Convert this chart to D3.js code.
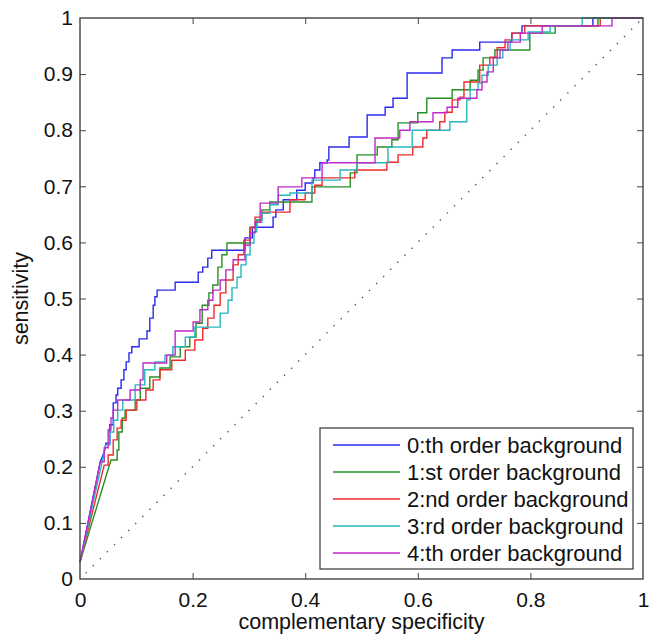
<!DOCTYPE html>
<html><head><meta charset="utf-8">
<script src="https://cdn.jsdelivr.net/npm/d3@7/dist/d3.min.js"></script>
<style>
html,body{margin:0;padding:0;background:#fff;}
svg{display:block;font-family:"Liberation Sans",Arial,sans-serif;}
</style></head>
<body><svg id="chart" width="658" height="638"></svg>
<script>
const seriesNames = ["0:th order background","1:st order background","2:nd order background","3:rd order background","4:th order background"];
const seriesColors = ["#2a2af0","#259025","#f02a2a","#25b8c0","#c02ac8"];
const xTicks = [0,0.2,0.4,0.6,0.8,1];
const yTicks = [0,0.1,0.2,0.3,0.4,0.5,0.6,0.7,0.8,0.9,1];
const xTickLabels = ["0","0.2","0.4","0.6","0.8","1"];
const yTickLabels = ["0","0.1","0.2","0.3","0.4","0.5","0.6","0.7","0.8","0.9","1"];

const roc0 = [[0,0.030],[0.036,0.209],[0.043,0.226],[0.046,0.242],[0.053,0.242],[0.053,0.275],[0.059,0.275],[0.059,0.314],[0.064,0.314],[0.064,0.328],[0.067,0.328],[0.067,0.340],[0.073,0.340],[0.073,0.355],[0.078,0.355],[0.078,0.373],[0.082,0.373],[0.082,0.387],[0.087,0.387],[0.087,0.403],[0.092,0.403],[0.092,0.414],[0.105,0.414],[0.105,0.428],[0.119,0.428],[0.119,0.442],[0.124,0.442],[0.124,0.465],[0.130,0.465],[0.130,0.488],[0.133,0.488],[0.133,0.503],[0.137,0.503],[0.137,0.515],[0.169,0.515],[0.169,0.529],[0.210,0.529],[0.210,0.547],[0.218,0.547],[0.218,0.556],[0.227,0.556],[0.227,0.572],[0.234,0.572],[0.234,0.586],[0.293,0.586],[0.293,0.608],[0.306,0.608],[0.306,0.627],[0.343,0.627],[0.343,0.645],[0.348,0.645],[0.348,0.658],[0.361,0.658],[0.361,0.676],[0.385,0.676],[0.385,0.693],[0.400,0.693],[0.400,0.706],[0.414,0.706],[0.414,0.715],[0.417,0.715],[0.417,0.729],[0.426,0.729],[0.426,0.742],[0.439,0.742],[0.439,0.747],[0.442,0.747],[0.442,0.770],[0.478,0.770],[0.478,0.788],[0.510,0.788],[0.510,0.827],[0.542,0.827],[0.542,0.841],[0.556,0.841],[0.556,0.857],[0.581,0.857],[0.581,0.902],[0.643,0.902],[0.643,0.929],[0.661,0.929],[0.661,0.943],[0.710,0.943],[0.710,0.957],[0.767,0.957],[0.767,0.973],[0.785,0.973],[0.785,0.986],[0.911,0.986],[0.911,1],[1,1]];

const roc1 = [[0,0.030],[0.055,0.212],[0.066,0.212],[0.066,0.230],[0.069,0.230],[0.069,0.262],[0.075,0.262],[0.075,0.287],[0.080,0.287],[0.080,0.301],[0.098,0.301],[0.098,0.319],[0.107,0.319],[0.107,0.340],[0.124,0.340],[0.124,0.360],[0.142,0.360],[0.142,0.376],[0.160,0.376],[0.160,0.396],[0.178,0.396],[0.178,0.414],[0.195,0.414],[0.195,0.431],[0.206,0.431],[0.206,0.456],[0.217,0.456],[0.217,0.488],[0.229,0.488],[0.229,0.510],[0.236,0.510],[0.236,0.524],[0.245,0.524],[0.245,0.556],[0.252,0.556],[0.252,0.578],[0.261,0.578],[0.261,0.599],[0.302,0.599],[0.302,0.627],[0.314,0.627],[0.314,0.640],[0.323,0.640],[0.323,0.658],[0.337,0.658],[0.337,0.672],[0.412,0.672],[0.412,0.699],[0.480,0.699],[0.480,0.724],[0.492,0.724],[0.492,0.756],[0.528,0.756],[0.528,0.770],[0.554,0.770],[0.554,0.783],[0.565,0.783],[0.565,0.813],[0.600,0.813],[0.600,0.831],[0.616,0.831],[0.616,0.857],[0.661,0.857],[0.661,0.872],[0.693,0.872],[0.693,0.889],[0.707,0.889],[0.707,0.907],[0.716,0.907],[0.716,0.929],[0.737,0.929],[0.737,0.943],[0.799,0.943],[0.799,0.973],[0.844,0.973],[0.844,0.986],[0.920,0.986],[0.920,1],[1,1]];

const roc2 = [[0,0.030],[0.043,0.203],[0.050,0.203],[0.050,0.221],[0.059,0.221],[0.059,0.248],[0.066,0.248],[0.066,0.269],[0.073,0.269],[0.073,0.283],[0.082,0.283],[0.082,0.301],[0.101,0.301],[0.101,0.319],[0.117,0.319],[0.117,0.337],[0.130,0.337],[0.130,0.355],[0.142,0.355],[0.142,0.373],[0.163,0.373],[0.163,0.390],[0.187,0.390],[0.187,0.408],[0.204,0.408],[0.204,0.426],[0.218,0.426],[0.218,0.447],[0.227,0.447],[0.227,0.465],[0.238,0.465],[0.238,0.488],[0.249,0.488],[0.249,0.510],[0.259,0.510],[0.259,0.533],[0.272,0.533],[0.272,0.560],[0.281,0.560],[0.281,0.578],[0.291,0.578],[0.291,0.604],[0.302,0.604],[0.302,0.626],[0.311,0.626],[0.311,0.645],[0.323,0.645],[0.323,0.654],[0.373,0.654],[0.373,0.676],[0.400,0.676],[0.400,0.688],[0.417,0.688],[0.417,0.702],[0.430,0.702],[0.430,0.715],[0.488,0.715],[0.488,0.729],[0.545,0.729],[0.545,0.743],[0.565,0.743],[0.565,0.756],[0.591,0.756],[0.591,0.770],[0.609,0.770],[0.609,0.786],[0.616,0.786],[0.616,0.800],[0.639,0.800],[0.639,0.815],[0.648,0.815],[0.648,0.832],[0.661,0.832],[0.661,0.854],[0.675,0.854],[0.675,0.859],[0.682,0.859],[0.682,0.886],[0.710,0.886],[0.710,0.916],[0.728,0.916],[0.728,0.930],[0.741,0.930],[0.741,0.947],[0.755,0.947],[0.755,0.961],[0.767,0.961],[0.767,0.973],[0.790,0.973],[0.790,0.986],[0.924,0.986],[0.924,1],[1,1]];

const roc3 = [[0,0.030],[0.046,0.239],[0.053,0.239],[0.053,0.262],[0.060,0.262],[0.060,0.283],[0.067,0.283],[0.067,0.301],[0.076,0.301],[0.076,0.319],[0.098,0.319],[0.098,0.346],[0.115,0.346],[0.115,0.373],[0.133,0.373],[0.133,0.387],[0.151,0.387],[0.151,0.399],[0.165,0.399],[0.165,0.414],[0.187,0.414],[0.187,0.431],[0.204,0.431],[0.204,0.449],[0.249,0.449],[0.249,0.474],[0.263,0.474],[0.263,0.497],[0.270,0.497],[0.270,0.519],[0.279,0.519],[0.279,0.538],[0.286,0.538],[0.286,0.560],[0.295,0.560],[0.295,0.578],[0.302,0.578],[0.302,0.599],[0.309,0.599],[0.309,0.619],[0.314,0.619],[0.314,0.636],[0.323,0.636],[0.323,0.652],[0.337,0.652],[0.337,0.667],[0.352,0.667],[0.352,0.684],[0.373,0.684],[0.373,0.688],[0.412,0.688],[0.412,0.711],[0.462,0.711],[0.462,0.729],[0.492,0.729],[0.492,0.742],[0.547,0.742],[0.547,0.770],[0.590,0.770],[0.590,0.800],[0.657,0.800],[0.657,0.815],[0.687,0.815],[0.687,0.854],[0.693,0.854],[0.693,0.872],[0.707,0.872],[0.707,0.884],[0.714,0.884],[0.714,0.898],[0.725,0.898],[0.725,0.916],[0.741,0.916],[0.741,0.929],[0.751,0.929],[0.751,0.943],[0.764,0.943],[0.764,0.961],[0.796,0.961],[0.796,0.975],[0.835,0.975],[0.835,0.986],[0.892,0.986],[0.892,1],[1,1]];

const roc4 = [[0,0.030],[0.036,0.209],[0.043,0.209],[0.043,0.234],[0.050,0.234],[0.050,0.266],[0.055,0.266],[0.055,0.287],[0.059,0.287],[0.059,0.301],[0.067,0.301],[0.067,0.319],[0.089,0.319],[0.089,0.337],[0.107,0.337],[0.107,0.355],[0.112,0.355],[0.112,0.385],[0.154,0.385],[0.154,0.399],[0.169,0.399],[0.169,0.442],[0.201,0.442],[0.201,0.458],[0.213,0.458],[0.213,0.480],[0.227,0.480],[0.227,0.497],[0.236,0.497],[0.236,0.515],[0.249,0.515],[0.249,0.533],[0.259,0.533],[0.259,0.551],[0.272,0.551],[0.272,0.569],[0.293,0.569],[0.293,0.595],[0.302,0.595],[0.302,0.617],[0.311,0.617],[0.311,0.636],[0.320,0.636],[0.320,0.670],[0.352,0.670],[0.352,0.699],[0.394,0.699],[0.394,0.715],[0.430,0.715],[0.430,0.742],[0.524,0.742],[0.524,0.786],[0.568,0.786],[0.568,0.800],[0.586,0.800],[0.586,0.815],[0.627,0.815],[0.627,0.831],[0.652,0.831],[0.652,0.841],[0.671,0.841],[0.671,0.857],[0.705,0.857],[0.705,0.872],[0.714,0.872],[0.714,0.886],[0.723,0.886],[0.723,0.904],[0.734,0.904],[0.734,0.929],[0.746,0.929],[0.746,0.943],[0.760,0.943],[0.760,0.957],[0.782,0.957],[0.782,0.973],[0.821,0.973],[0.821,0.986],[0.945,0.986],[0.945,1],[1,1]];

const chanceLine = [[0,0],[1,1]];
const allSeries = [roc0, roc1, roc2, roc3, roc4];

const svg = d3.select("#chart");
const M = {left:80, right:15, top:18, bottom:59};
const W = 658, H = 638;
const x = d3.scaleLinear().domain([0,1]).range([M.left, W - M.right]);
const y = d3.scaleLinear().domain([0,1]).range([H - M.bottom, M.top]);
const axisColor = "#444";

// chance diagonal
svg.append("path")
  .attr("d", d3.line().x(d=>x(d[0])).y(d=>y(d[1]))(chanceLine))
  .attr("fill","none").attr("stroke","#555").attr("stroke-width",1.4)
  .attr("stroke-dasharray","1.4,8.6").attr("stroke-dashoffset",-8);

// series
const line = d3.line().x(d=>x(d[0])).y(d=>y(d[1]));
allSeries.forEach((s,i)=>{
  svg.append("path").attr("d", line(s)).attr("fill","none")
    .attr("stroke", seriesColors[i]).attr("stroke-width",1.4)
    .attr("stroke-linejoin","miter");
});

// axes (inward ticks, box)
const fs = 21;
const xAxisB = d3.axisBottom(x).tickValues(xTicks).tickFormat((d,i)=>xTickLabels[i]).tickSizeInner(-6).tickSizeOuter(0).tickPadding(13);
const gx = svg.append("g").attr("transform",`translate(0,${y(0)})`).call(xAxisB);
const xAxisT = d3.axisTop(x).tickValues(xTicks).tickFormat("").tickSizeInner(-6).tickSizeOuter(0);
const gxt = svg.append("g").attr("transform",`translate(0,${y(1)})`).call(xAxisT);
const yAxisL = d3.axisLeft(y).tickValues(yTicks).tickFormat((d,i)=>yTickLabels[i]).tickSizeInner(-6).tickSizeOuter(0).tickPadding(7);
const gy = svg.append("g").attr("transform",`translate(${x(0)},0)`).call(yAxisL);
const yAxisR = d3.axisRight(y).tickValues(yTicks).tickFormat("").tickSizeInner(-6).tickSizeOuter(0);
const gyr = svg.append("g").attr("transform",`translate(${x(1)},0)`).call(yAxisR);
[gx,gxt,gy,gyr].forEach(g=>{
  g.select(".domain").remove();
  g.selectAll("line").attr("stroke",axisColor).attr("stroke-width",1);
  g.selectAll("text").attr("fill","#111").style("font-size",fs+"px").style("font-family","'Liberation Sans',Arial,sans-serif");
});
gy.selectAll(".tick").filter(d=>d===0||d===1).select("line").remove();
gyr.selectAll(".tick").filter(d=>d===0||d===1).select("line").remove();
gx.selectAll(".tick").filter(d=>d===0||d===1).select("line").remove();
gxt.selectAll(".tick").filter(d=>d===0||d===1).select("line").remove();

svg.append("rect").attr("x",x(0)).attr("y",y(1)).attr("width",x(1)-x(0)).attr("height",y(0)-y(1))
  .attr("fill","none").attr("stroke",axisColor).attr("stroke-width",1.4);

// axis titles
svg.append("text").attr("x",(x(0)+x(1))/2).attr("y",629).attr("text-anchor","middle")
  .style("font-size","21.5px").attr("fill","#111").text("complementary specificity");
svg.append("text").attr("transform",`translate(28,${(y(0)+y(1))/2}) rotate(-90)`).attr("text-anchor","middle")
  .style("font-size","21.5px").attr("fill","#111").text("sensitivity");

// legend
const lg = svg.append("g");
const lx0 = 320, ly0 = 428, lw = 313, lh = 141;
lg.append("rect").attr("x",lx0).attr("y",ly0).attr("width",lw).attr("height",lh)
  .attr("fill","#fff").attr("stroke",axisColor).attr("stroke-width",1.3);
seriesNames.forEach((n,i)=>{
  const cy = 445 + i*27;
  lg.append("line").attr("x1",333).attr("x2",400).attr("y1",cy).attr("y2",cy)
    .attr("stroke",seriesColors[i]).attr("stroke-width",1.4);
  lg.append("text").attr("x",407).attr("y",cy+8).style("font-size","22px").attr("fill","#111").text(n);
});
</script></body></html>
